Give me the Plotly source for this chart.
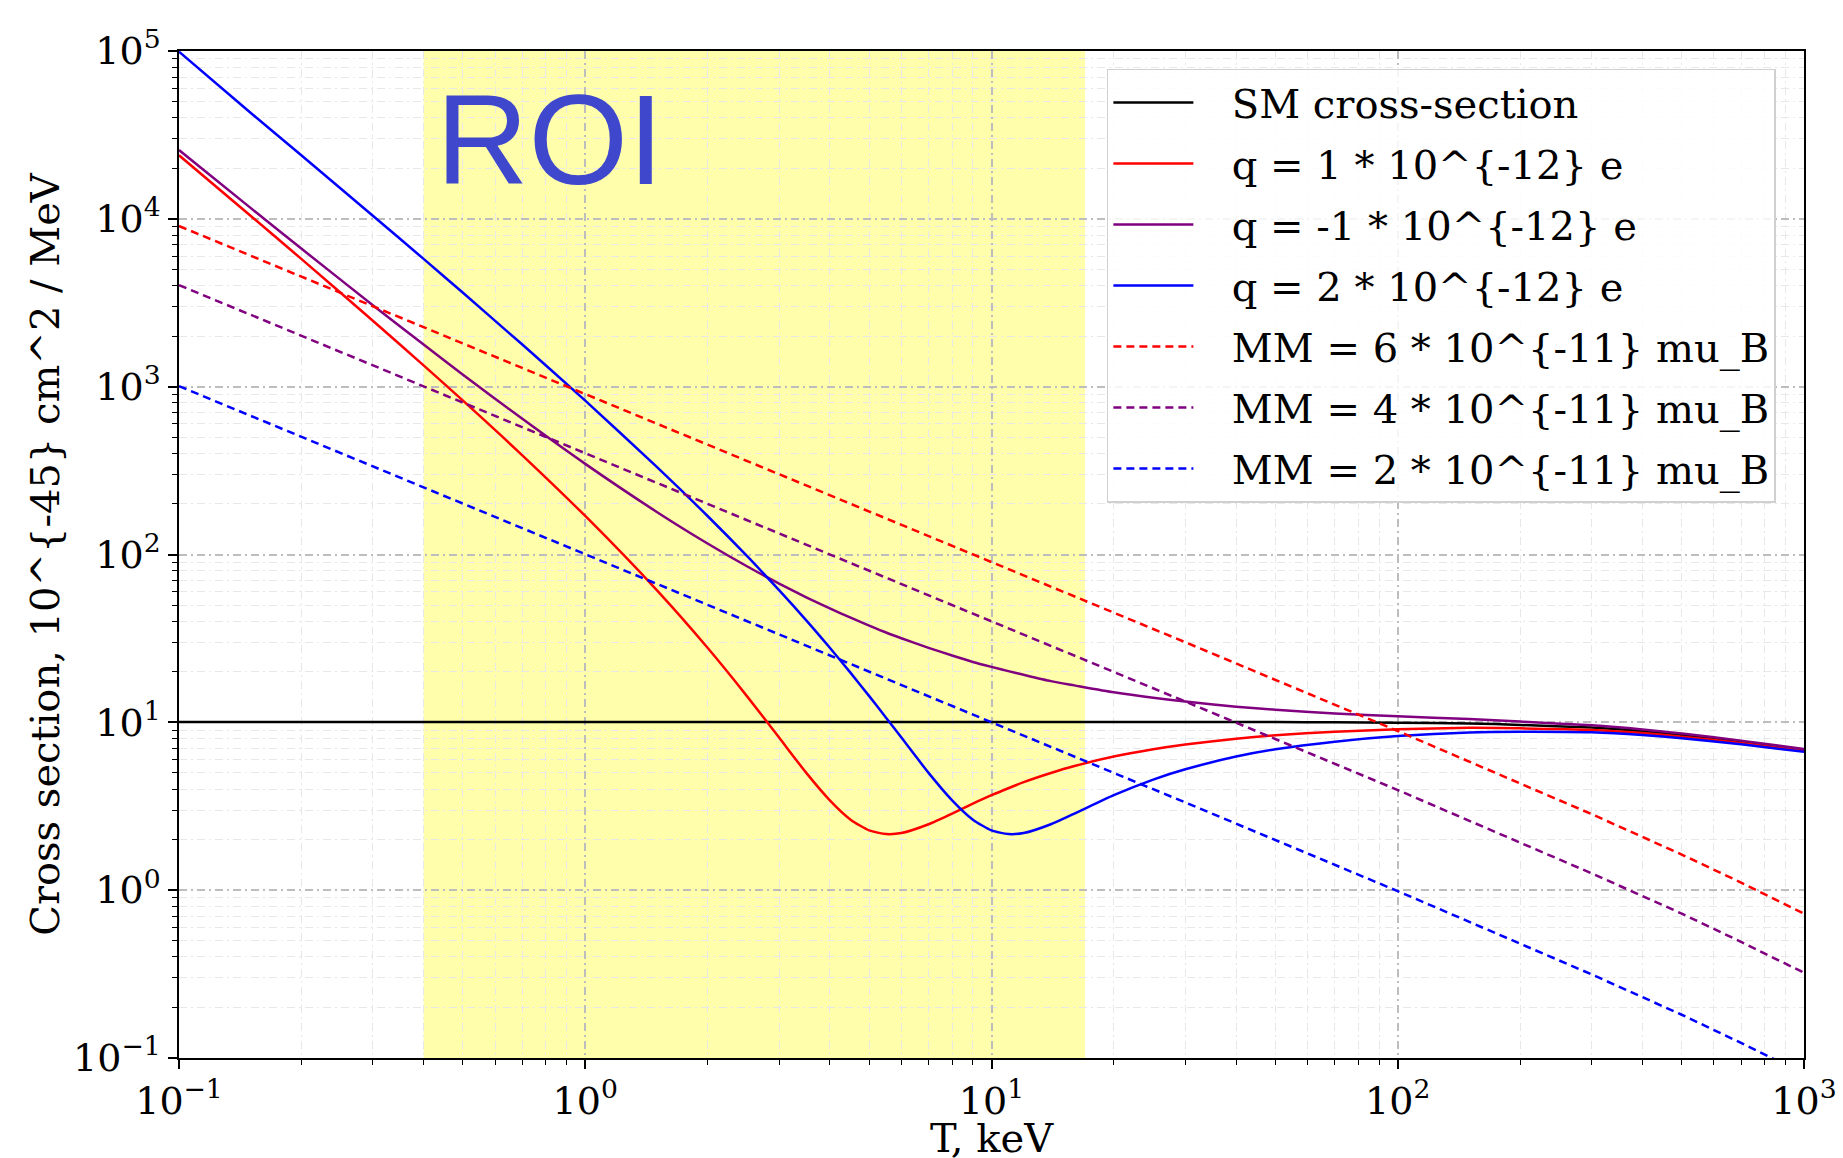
import plotly.graph_objects as go

# Recoil energy grid (keV) shared by the solid curves
T_keV = [0.1, 0.15, 0.2, 0.3, 0.4, 0.5, 0.7, 1, 1.5, 2, 2.5, 3, 3.5, 4, 4.5, 5, 5.5,
         6, 7, 8, 9, 10, 11, 12, 14, 16, 20, 25, 30, 40, 50, 70, 100, 150, 200,
         300, 400, 500, 700, 1000]

# Cross sections, 10^{-45} cm^2 / MeV
sm_xs = [10.05, 10.05, 10.05, 10.05, 10.05, 10.05, 10.05, 10.05, 10.05, 10.05, 10.05,
         10.05, 10.05, 10.05, 10.05, 10.05, 10.05, 10.05, 10.05, 10.05, 10.05, 10.05,
         10.05, 10.05, 10.05, 10.05, 10.05, 10.05, 10.05, 10.05, 10.05, 10.0, 9.95,
         9.85, 9.65, 9.3, 8.85, 8.4, 7.65, 6.85]

q_p1 = [23900, 10440, 5770, 2471, 1339, 825, 390, 169.6, 61.3, 27.8, 14.33, 8.11,
        5.00, 3.43, 2.63, 2.27, 2.16, 2.19, 2.47, 2.86, 3.28, 3.68, 4.05, 4.40, 4.99,
        5.49, 6.25, 6.91, 7.38, 7.99, 8.38, 8.79, 9.09, 9.27, 9.21, 9.01, 8.63,
        8.22, 7.52, 6.76]

q_m1 = [25700, 11620, 6650, 3060, 1781, 1179, 643, 346.6, 179.3, 116.3, 85.1, 67.1,
        55.6, 47.7, 42.0, 37.7, 34.3, 31.7, 27.8, 25.0, 22.9, 21.4, 20.2, 19.2, 17.6,
        16.6, 15.1, 14.0, 13.3, 12.4, 11.9, 11.3, 10.86, 10.45, 10.10, 9.60, 9.07,
        8.58, 7.78, 6.94]

q_p2 = [99000, 42900, 23900, 10440, 5770, 3624, 1782, 825, 333, 169.6, 98.0, 61.3,
        40.5, 27.8, 19.7, 14.33, 10.66, 8.11, 5.00, 3.43, 2.63, 2.27, 2.16, 2.19, 2.47,
        2.86, 3.68, 4.56, 5.25, 6.25, 6.91, 7.67, 8.28, 8.71, 8.79, 8.72, 8.41,
        8.05, 7.40, 6.67]

# Magnetic-moment curves
T_mm = [0.1, 1, 10, 30, 100, 200, 300, 500, 700, 1000]
mm_6 = [9060, 906, 90.4, 30.0, 8.88, 4.35, 2.84, 1.63, 1.11, 0.725]
mm_4 = [4027, 402.6, 40.2, 13.3, 3.95, 1.93, 1.26, 0.725, 0.492, 0.322]
mm_2 = [1007, 100.6, 10.04, 3.33, 0.987, 0.483, 0.315, 0.181, 0.123, 0.0805]

roi_keV = [0.4, 17]

x_tickvals = [0.1, 1, 10, 100, 1000]
x_ticktext = ["10<sup>\u22121</sup>", "10<sup>0</sup>", "10<sup>1</sup>",
              "10<sup>2</sup>", "10<sup>3</sup>"]
y_tickvals = [0.1, 1, 10, 100, 1000, 10000, 100000]
y_ticktext = ["10<sup>\u22121</sup>", "10<sup>0</sup>", "10<sup>1</sup>",
              "10<sup>2</sup>", "10<sup>3</sup>", "10<sup>4</sup>", "10<sup>5</sup>"]

SERIF = "DejaVu Serif"
PAD = "\u00a0\u00a0\u2009"  # gap between legend line sample and label
fig = go.Figure()

solid = [
    ("SM cross-section", sm_xs, "black"),
    ("q = 1 * 10^{-12} e", q_p1, "red"),
    ("q = -1 * 10^{-12} e", q_m1, "purple"),
    ("q = 2 * 10^{-12} e", q_p2, "blue"),
]
for i, (name, ys, col) in enumerate(solid):
    fig.add_trace(go.Scatter(
        x=T_keV, y=ys, name=PAD + name, mode="lines", legendgroup=f"g{i}",
        line=dict(color=col, width=2.5, shape="spline", smoothing=0.6)))

dashed = [
    ("MM = 6 * 10^{-11} mu_B", mm_6, "red"),
    ("MM = 4 * 10^{-11} mu_B", mm_4, "purple"),
    ("MM = 2 * 10^{-11} mu_B", mm_2, "blue"),
]
for i, (name, ys, col) in enumerate(dashed):
    fig.add_trace(go.Scatter(
        x=T_mm, y=ys, name=PAD + name, mode="lines", legendgroup=f"d{i}",
        line=dict(color=col, width=2.5, dash="8px,5px")))

# Region of interest band
fig.add_shape(type="rect", xref="x", yref="paper", x0=roi_keV[0], x1=roi_keV[1],
              y0=0, y1=1, fillcolor="rgba(255,255,0,0.33)", line_width=0,
              layer="below")

fig.add_annotation(text="ROI", xref="x", yref="y", x=-0.087, y=4.474,
                   showarrow=False, xanchor="center", yanchor="middle",
                   font=dict(family="Liberation Sans, Arial", size=128,
                             color="#3F48CC"))

# x-axis label placed under the tick labels
fig.add_annotation(text="T, keV", xref="paper", yref="paper", x=0.5, y=-0.0795,
                   showarrow=False, xanchor="center", yanchor="middle",
                   font=dict(family=SERIF, size=40, color="black"))

axis_common = dict(
    type="log", showline=True, linecolor="black", linewidth=1.5, mirror=True,
    ticks="outside", ticklen=9, tickwidth=1.5, tickcolor="black",
    showgrid=True, gridcolor="#bdbdbd", gridwidth=1.5, griddash="8px,4px,2px,4px",
    tickfont=dict(family=SERIF, size=38, color="black"),
    minor=dict(ticks="outside", ticklen=5, tickwidth=1, tickcolor="black",
               showgrid=True, gridcolor="#e8e8e8", gridwidth=1, dtick="D1"),
    zeroline=False, automargin=False,
)

fig.update_xaxes(**axis_common, range=[-1, 3], tickvals=x_tickvals,
                 ticktext=x_ticktext)
fig.update_yaxes(**axis_common, range=[-1, 5], tickvals=y_tickvals,
                 ticktext=y_ticktext,
                 title=dict(text="Cross section, 10^{-45} cm^2 / MeV",
                            font=dict(family=SERIF, size=40, color="black"),
                            standoff=1))

fig.update_layout(
    width=1843, height=1158,
    margin=dict(l=179, r=39, t=51, b=100),
    paper_bgcolor="white", plot_bgcolor="white",
    legend=dict(x=0.571, y=0.9826, xanchor="left", yanchor="top",
                bgcolor="rgba(255,255,255,0.85)", bordercolor="#d0d0d0",
                borderwidth=1.5, font=dict(family=SERIF, size=40, color="black"),
                itemwidth=80, tracegroupgap=6, traceorder="grouped"),
    showlegend=True,
)

fig.write_html("out.html")
